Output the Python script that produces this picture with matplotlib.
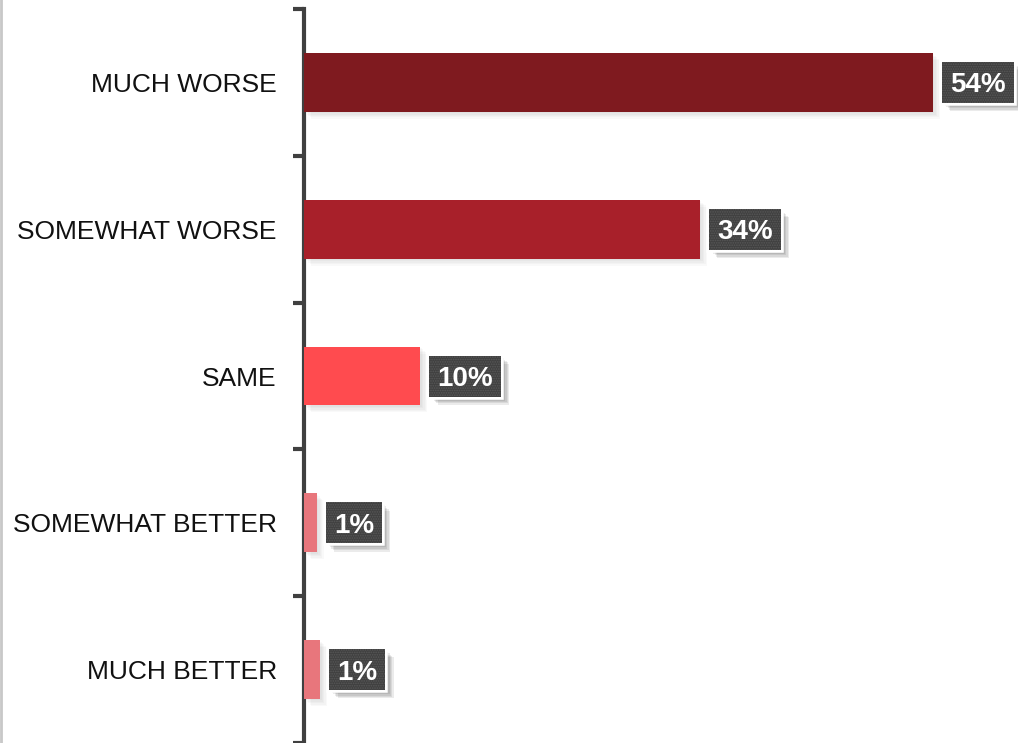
import matplotlib
matplotlib.use("Agg")
import matplotlib.pyplot as plt
import matplotlib.patheffects as pe
from matplotlib.lines import Line2D
from matplotlib.patches import Rectangle
from matplotlib.transforms import ScaledTranslation

categories = ["MUCH WORSE", "SOMEWHAT WORSE", "SAME", "SOMEWHAT BETTER", "MUCH BETTER"]
values = [54, 34, 10, 1.1, 1.4]
labels = ["54%", "34%", "10%", "1%", "1%"]
colors = ["#7f1a1f", "#a8202a", "#ff4b4f", "#e8767c", "#e8767c"]

plt.rcParams['font.family'] = ['Liberation Sans', 'DejaVu Sans']
plt.rcParams['hatch.linewidth'] = 0.8

DPI = 100
fig = plt.figure(figsize=(10.18, 7.43), dpi=DPI)
ax = fig.add_axes([304/1018, 0.0, 1 - 304/1018, 1 - 9/743])

y = list(range(len(categories)))
bars = ax.barh(y, values, height=0.40, color=colors, zorder=3)
for b in bars:
    b.set_path_effects([
        pe.SimplePatchShadow(offset=(d, -d), shadow_rgbFace='#000000', alpha=0.025)
        for d in (1, 2, 3, 4, 5)] + [pe.Normal()])

ax.set_ylim(len(categories) - 0.5, -0.5)
ax.set_xlim(0, 61.3)
ax.set_yticks(y)
ax.set_yticklabels(categories, fontsize=19, color='#111111')
ax.tick_params(axis='y', which='major', length=0, pad=19.5)
ax.set_yticks([i - 0.5 for i in range(len(categories) + 1)], minor=True)
ax.tick_params(axis='y', which='minor', length=8, width=3, color='#404040')
ax.set_xticks([])

for s in ['top', 'right', 'bottom']:
    ax.spines[s].set_visible(False)
ax.spines['left'].set_linewidth(3)
ax.spines['left'].set_color('#404040')

texts = []
for yi, v, lab in zip(y, values, labels):
    t = ax.annotate(lab, xy=(v, yi), xytext=(17 * 72 / DPI, -10 * 72 / DPI),
                    textcoords='offset points', va='baseline', ha='left',
                    fontsize=20, fontweight='bold', color='white', zorder=6)
    texts.append(t)

fig.canvas.draw()
renderer = fig.canvas.get_renderer()
for t, yi, v in zip(texts, y, values):
    w = t.get_window_extent(renderer).width
    tr = fig.dpi_scale_trans + ScaledTranslation(v, yi, ax.transData)
    r = Rectangle((9 / DPI, -20.5 / DPI), (w + 16) / DPI, 41 / DPI, transform=tr,
                  facecolor='#404040', edgecolor='#585858', linewidth=0,
                  hatch='.' * 7, zorder=5, clip_on=False)
    r.set_path_effects(
        [pe.SimplePatchShadow(offset=(d, -d), shadow_rgbFace='#000000', alpha=0.08, hatch=None)
         for d in (2, 3, 4, 5, 6)] +
        [pe.Stroke(linewidth=4, foreground='white', hatch=None), pe.Normal()])
    ax.add_artist(r)

fig.add_artist(Line2D([1/1018, 1/1018], [0, 1], transform=fig.transFigure,
                      color='#c8c8c8', linewidth=2))

fig.savefig("out.png", dpi=DPI)
